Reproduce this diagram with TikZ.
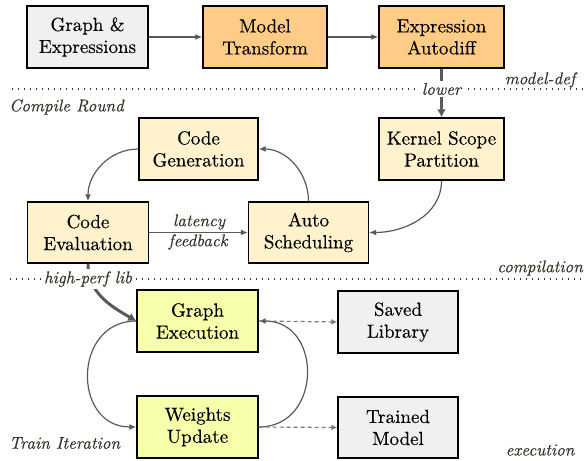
\documentclass[tikz,border=0pt]{standalone}
\usepackage{fontspec}
\setmainfont{lmroman10-regular.otf}[ItalicFont=lmroman10-italic.otf, FakeBold=0.25]
\usetikzlibrary{arrows.meta}
\definecolor{boxgray}{HTML}{F0F0F0}
\definecolor{boxorange}{HTML}{FFCC88}
\definecolor{boxbeige}{HTML}{FFF2CC}
\definecolor{boxyellow}{HTML}{F7FFAA}
\definecolor{linegray}{HTML}{5A5A5A}
\definecolor{labelcol}{HTML}{333328}
\tikzset{
  box/.style={draw=black, line width=1.4pt, align=center, inner sep=0pt,
    font=\rmfamily\fontsize{19}{22}\selectfont, text=black},
  graybox/.style={box, fill=boxgray},
  orangebox/.style={box, fill=boxorange},
  beigebox/.style={box, fill=boxbeige},
  yellowbox/.style={box, fill=boxyellow},
  conn/.style={draw=linegray, line width=1.2pt, -{Latex[length=7pt,width=6pt]}},
  thickconn/.style={draw=linegray, line width=3pt, -{Latex[length=8pt,width=9pt]}},
  dashconn/.style={draw=linegray!80, line width=1.2pt, dash pattern=on 4pt off 3pt, -{Latex[length=6pt,width=6pt]}},
  sep/.style={draw=labelcol, line width=1.3pt, dash pattern=on 1.3pt off 4.7pt},
  lbl/.style={font=\rmfamily\fontsize{17}{19}\selectfont\itshape, text=labelcol, inner sep=1pt},
  whitelbl/.style={lbl, fill=white, inner sep=2pt}
}
\begin{document}
\begin{tikzpicture}[x=1pt,y=1pt]
\useasboundingbox (0,0) rectangle (585,460);
% separators
\coordinate (s1a) at (12,371); \coordinate (s1b) at (584,371);
\coordinate (s2a) at (10,181); \coordinate (s2b) at (584,181);
\draw[sep] (s1a) -- (s1b);
\draw[sep] (s2a) -- (s2b);
% boxes
\node[graybox, minimum width=121pt, minimum height=62pt] (ge) at (87.5,423) {Graph \&\\Expressions};
\node[orangebox, minimum width=124pt, minimum height=62pt] (mt) at (265,423) {Model\\Transform};
\node[orangebox, minimum width=125pt, minimum height=62pt] (ea) at (441.5,423) {Expression\\Autodiff};
\node[beigebox, minimum width=125pt, minimum height=62pt] (ks) at (441.5,311) {Kernel Scope\\Partition};
\node[beigebox, minimum width=119pt, minimum height=62pt] (cg) at (198.5,311) {Code\\Generation};
\node[beigebox, minimum width=121pt, minimum height=61pt] (ce) at (88,227.5) {Code\\Evaluation};
\node[beigebox, minimum width=120pt, minimum height=61pt] (as) at (308.5,227.5) {Auto\\Scheduling};
\node[yellowbox, minimum width=121pt, minimum height=62pt] (gx) at (197.5,139) {Graph\\Execution};
\node[graybox, minimum width=120pt, minimum height=62pt] (sl) at (398,138) {Saved\\Library};
\node[yellowbox, minimum width=121pt, minimum height=62pt] (wu) at (197.5,33) {Weights\\Update};
\node[graybox, minimum width=120pt, minimum height=61pt] (tm) at (398,32.5) {Trained\\Model};
% connectors
\draw[conn] (ge.east) -- (mt.west);
\draw[conn] (mt.east) -- (ea.west);
\draw[thickconn] (ea.south) -- (ks.north);
\node[whitelbl] (lower) at (441.5,371) {lower};
\draw[conn] (ks.south) to[out=270,in=0] (as.east);
\draw[conn] (as.north) to[out=90,in=0] (cg.east);
\draw[conn] (cg.west) to[out=180,in=90] (ce.north);
\draw[conn] (ce.east) -- (as.west);
\draw[thickconn] (ce.south) to[out=270,in=150] (gx.west);
\node[whitelbl] (hpl) at (88,181) {high-perf lib};
\draw[conn] (gx.west) to[out=180,in=180,looseness=1.55] (wu.west);
\draw[conn] (wu.east) to[out=0,in=0,looseness=1.55] (gx.east);
\draw[dashconn] (gx.east) -- (sl.west);
\draw[dashconn] (wu.east) -- (tm.west);
% labels
\node[lbl] (lat) at (199,238) {latency};
\node[lbl] (fb) at (198,218) {feedback};
\node[lbl] (md) at (540,380) {model-def};
\node[lbl, anchor=west] (cr) at (8,353) {Compile Round};
\node[lbl] (cp) at (540,192) {compilation};
\node[lbl, anchor=west] (ti) at (8,17) {Train Iteration};
\node[lbl] (ex) at (540,10) {execution};
\end{tikzpicture}
\end{document}
